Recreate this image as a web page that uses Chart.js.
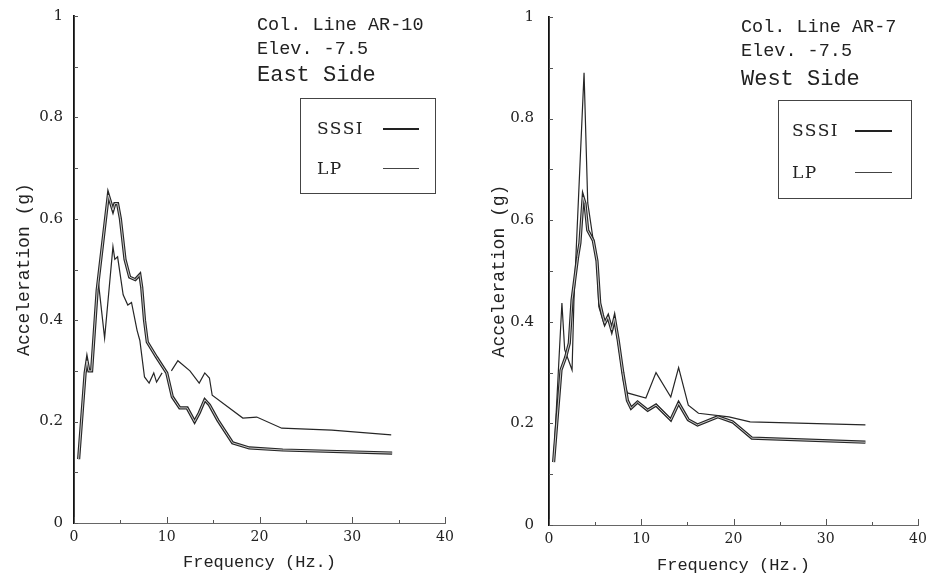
<!DOCTYPE html>
<html>
<head>
<meta charset="utf-8">
<script src="https://cdn.jsdelivr.net/npm/chart.js@4"></script>
<style>
  body { margin: 0; background: #fff; }
  #wrap { position: relative; width: 932px; height: 578px; overflow: hidden; }
  canvas { position: absolute; top: 0; }
  .note { position: absolute; font-family: "Liberation Mono", monospace; color: #222; white-space: pre; line-height: 1; }
  .legend { position: absolute; border: 1px solid #444; background: #fff; }
  .legend span { position: absolute; font-family: "DejaVu Serif", serif; font-size: 17px; letter-spacing: 1.5px; color: #222; line-height: 1; }
  .legend i { position: absolute; display: block; }
</style>
</head>
<body>
<div id="wrap">
  <canvas id="east" width="466" height="578" style="left:0"></canvas>
  <canvas id="west" width="466" height="578" style="left:466px"></canvas>

  <div class="note" style="left:257px;top:17px;font-size:18.5px">Col. Line AR-10</div>
  <div class="note" style="left:257px;top:41px;font-size:18.5px">Elev. -7.5</div>
  <div class="note" style="left:257px;top:65px;font-size:22px">East Side</div>
  <div class="legend" style="left:300px;top:98px;width:134px;height:94px">
    <span style="left:16px;top:21px">SSSI</span><i style="left:82px;top:29px;width:36px;border-top:2.5px solid #222"></i>
    <span style="left:16px;top:61px">LP</span><i style="left:82px;top:69px;width:36px;border-top:1px solid #444"></i>
  </div>

  <div class="note" style="left:741px;top:19px;font-size:18.5px">Col. Line AR-7</div>
  <div class="note" style="left:741px;top:43px;font-size:18.5px">Elev. -7.5</div>
  <div class="note" style="left:741px;top:69px;font-size:22px">West Side</div>
  <div class="legend" style="left:778px;top:100px;width:132px;height:97px">
    <span style="left:13px;top:21px">SSSI</span><i style="left:76px;top:29px;width:37px;border-top:2.5px solid #222"></i>
    <span style="left:13px;top:63px">LP</span><i style="left:76px;top:71px;width:37px;border-top:1px solid #444"></i>
  </div>
</div>
<script>
const yTickLabels = ['0', '0.2', '0.4', '0.6', '0.8', '1'];
const xTickLabels = ['0', '10', '20', '30', '40'];

// East side (Col. Line AR-10)
const eastSssiFreq = [0.5, 1.2, 1.4, 1.6, 1.9, 2.5, 3.7, 4.2, 4.4, 4.7, 5.0, 5.5, 6.0, 6.6, 7.1, 7.3, 7.6, 7.9, 8.9, 10.0, 10.6, 11.4, 12.2, 13.0, 13.5, 14.1, 14.6, 15.5, 17.1, 18.9, 22.5, 34.3];
const eastSssiAcc = [0.126, 0.296, 0.32, 0.30, 0.30, 0.46, 0.647, 0.617, 0.63, 0.63, 0.60, 0.52, 0.485, 0.48, 0.49, 0.465, 0.40, 0.357, 0.327, 0.296, 0.249, 0.227, 0.227, 0.20, 0.217, 0.243, 0.233, 0.203, 0.158, 0.148, 0.144, 0.138];
const eastLpFreq = [0.5, 1.2, 1.4, 1.6, 1.9, 2.6, 3.3, 4.2, 4.4, 4.7, 5.3, 5.8, 6.2, 6.8, 7.1, 7.6, 8.1, 8.6, 8.9, 9.5, 10.0, 10.5, 11.2, 12.5, 13.5, 14.1, 14.6, 14.9, 18.2, 19.7, 22.4, 27.8, 34.2];
const eastLpAcc = [0.126, 0.30, 0.32, 0.30, 0.30, 0.48, 0.365, 0.545, 0.52, 0.525, 0.45, 0.43, 0.435, 0.38, 0.36, 0.288, 0.276, 0.296, 0.278, 0.296, null, 0.30, 0.32, 0.30, 0.276, 0.296, 0.286, 0.252, 0.207, 0.209, 0.187, 0.183, 0.174];

// West side (Col. Line AR-7)
const westSssiFreq = [0.5, 1.3, 1.8, 2.2, 2.5, 3.1, 3.35, 3.7, 3.9, 4.2, 4.8, 5.2, 5.5, 5.8, 6.05, 6.4, 6.8, 7.1, 7.5, 8.0, 8.5, 8.9, 9.6, 10.7, 11.6, 13.2, 14.05, 15.1, 16.1, 18.3, 19.9, 22.0, 34.3];
const westSssiAcc = [0.124, 0.305, 0.33, 0.358, 0.443, 0.527, 0.555, 0.645, 0.633, 0.58, 0.56, 0.52, 0.437, 0.413, 0.397, 0.41, 0.384, 0.407, 0.364, 0.30, 0.245, 0.23, 0.242, 0.226, 0.236, 0.207, 0.24, 0.207, 0.197, 0.213, 0.203, 0.171, 0.163];
const westLpFreq = [0.5, 1.4, 1.7, 2.5, 2.7, 3.8, 4.2, 4.8, 5.2, 5.4, 5.95, 6.5, 6.9, 7.1, 7.6, 8.1, 8.5, 10.5, 11.6, 13.2, 14.05, 15.1, 16.2, 19.5, 21.8, 34.3];
const westLpAcc = [0.124, 0.437, 0.345, 0.305, 0.44, 0.89, 0.634, 0.56, 0.52, 0.43, 0.397, 0.407, 0.384, 0.407, 0.345, 0.28, 0.26, 0.25, 0.30, 0.252, 0.31, 0.236, 0.22, 0.213, 0.203, 0.197];

const pts = (xs, ys) => xs.map((x, i) => ({ x: x, y: ys[i] }));

// small tick marks drawn inside the plot, like the original
const innerTicks = {
  id: 'innerTicks',
  afterDraw(chart) {
    const { ctx, chartArea, scales: { x, y } } = chart;
    ctx.save();
    ctx.strokeStyle = '#555';
    ctx.lineWidth = 1;
    y.ticks.forEach(t => {
      const py = Math.round(y.getPixelForValue(t.value)) + 0.5;
      ctx.beginPath();
      ctx.moveTo(chartArea.left, py);
      ctx.lineTo(chartArea.left + 4, py);
      ctx.stroke();
    });
    x.ticks.forEach(t => {
      const px = Math.round(x.getPixelForValue(t.value)) + 0.5;
      ctx.beginPath();
      ctx.moveTo(px, chartArea.bottom);
      ctx.lineTo(px, chartArea.bottom - (t.value % 10 === 0 ? 6 : 3));
      ctx.stroke();
    });
    ctx.restore();
  }
};

function makePanel(id, sssi, lp, box) {
  new Chart(document.getElementById(id), {
    type: 'line',
    data: {
      datasets: [
        { data: sssi, borderColor: '#c8c8c8', borderWidth: 1, pointRadius: 0 },
        { data: sssi, borderColor: '#262626', borderWidth: 3.2, pointRadius: 0 },
        { data: lp, borderColor: '#262626', borderWidth: 1.2, pointRadius: 0, spanGaps: false }
      ]
    },
    options: {
      responsive: false,
      animation: false,
      devicePixelRatio: 1,
      layout: { padding: { top: box.top, right: box.right, left: 0, bottom: 0 } },
      plugins: { legend: { display: false }, tooltip: { enabled: false } },
      scales: {
        x: {
          type: 'linear', min: 0, max: 40,
          grid: { display: false, drawTicks: false },
          border: { display: true, color: '#666', width: 1, dash: [3, 2] },
          ticks: {
            stepSize: 5, autoSkip: false, maxRotation: 0, padding: box.xPad, color: '#222',
            font: { family: 'DejaVu Serif', size: 14 },
            callback: v => { const i = Math.round(v / 5); return i % 2 === 0 ? xTickLabels[i / 2] : ''; }
          },
          title: {
            display: true, text: 'Frequency (Hz.)', color: '#222',
            font: { family: 'Liberation Mono', size: 17 },
            padding: { top: 0, bottom: box.xTitle }
          },
          afterFit: s => { s.height = box.xh; s.paddingLeft = 0; s.paddingRight = 0; }
        },
        y: {
          min: 0, max: 1,
          grid: { display: false, drawTicks: false },
          border: { display: true, color: '#111', width: 1.8 },
          ticks: {
            stepSize: 0.1, autoSkip: false, padding: box.yPad, color: '#222',
            font: { family: 'DejaVu Serif', size: 15 },
            callback: v => { const i = Math.round(v * 10); return i % 2 === 0 ? yTickLabels[i / 2] : ''; }
          },
          title: {
            display: true, text: 'Acceleration (g)', color: '#222',
            font: { family: 'Liberation Mono', size: 18 },
            padding: { top: box.yTitle, bottom: 0 }
          },
          afterFit: s => { s.width = box.yw; s.paddingTop = 0; s.paddingBottom = 0; }
        }
      }
    },
    plugins: [innerTicks]
  });
}

makePanel('east', pts(eastSssiFreq, eastSssiAcc), pts(eastLpFreq, eastLpAcc),
  { top: 16, right: 21, yw: 74, xh: 55, yPad: 11, xPad: 6, yTitle: 13, xTitle: 5 });
makePanel('west', pts(westSssiFreq, westSssiAcc), pts(westLpFreq, westLpAcc),
  { top: 17, right: 14, yw: 83, xh: 53, yPad: 15, xPad: 6, yTitle: 22, xTitle: 2 });
</script>
</body>
</html>
